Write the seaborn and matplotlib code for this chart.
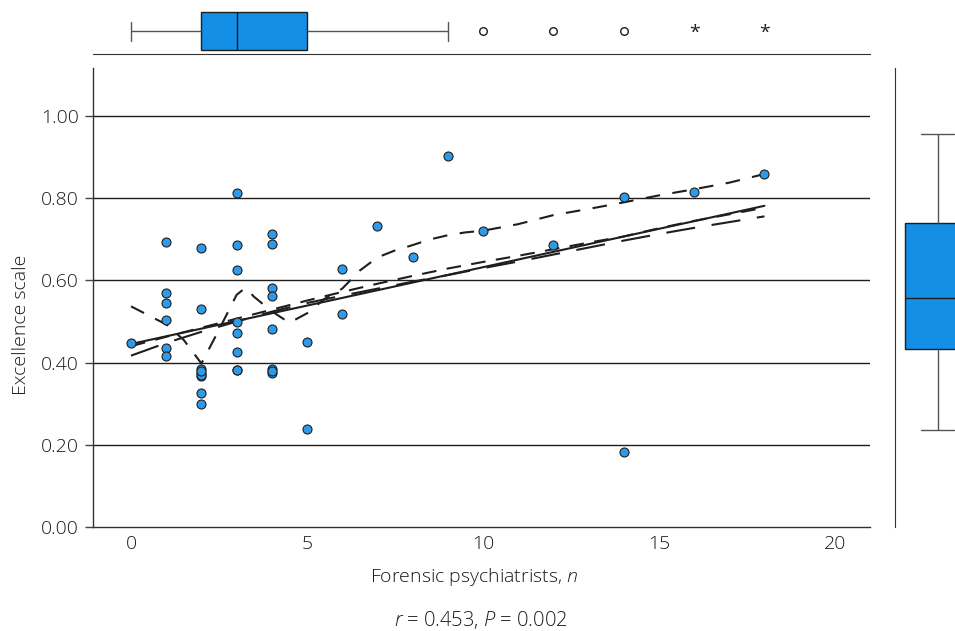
import numpy as np
import pandas as pd
import seaborn as sns
import matplotlib.pyplot as plt

# Points (a few stacked points sit hidden behind others)
forensic = [0,
            1, 1, 1, 1, 1, 1,
            2, 2, 2, 2, 2, 2, 2, 2, 2,
            3, 3, 3, 3, 3, 3, 3, 3,
            4, 4, 4, 4, 4, 4, 4, 4,
            5, 5, 6, 6, 7, 8, 9, 10, 12, 14, 14, 16, 18]
excellence = [0.447,
              0.694, 0.570, 0.545, 0.505, 0.436, 0.415,
              0.680, 0.530, 0.384, 0.375, 0.367, 0.325, 0.300, 0.370, 0.380,
              0.813, 0.687, 0.625, 0.498, 0.473, 0.427, 0.381, 0.381,
              0.713, 0.688, 0.582, 0.562, 0.482, 0.384, 0.375, 0.380,
              0.451, 0.238, 0.627, 0.518, 0.732, 0.656, 0.904, 0.721, 0.686,
              0.803, 0.183, 0.815, 0.859]

# other fit curves
smooth_x = [0, 0.5, 1, 1.5, 2, 2.5, 3, 3.25, 3.5, 4, 4.5, 5, 5.5, 6, 6.5, 7,
            7.5, 8, 8.5, 9, 9.5, 10, 11, 12, 13, 14, 15, 16, 17, 18]
smooth_y = [0.537, 0.515, 0.493, 0.455, 0.398, 0.48, 0.565, 0.582, 0.56, 0.525,
            0.497, 0.52, 0.555, 0.58, 0.624, 0.656, 0.673, 0.686, 0.70, 0.71,
            0.717, 0.721, 0.737, 0.759, 0.774, 0.79, 0.807, 0.822, 0.838, 0.859]
curve_x = [0, 1, 2, 3, 4, 5, 6, 7, 8, 9, 10, 11, 12, 13, 14, 15, 16, 17, 18]
long_dash_y = [0.417, 0.448, 0.475, 0.500, 0.524, 0.545, 0.563, 0.580, 0.597,
               0.613, 0.630, 0.646, 0.663, 0.680, 0.697, 0.713, 0.728, 0.742, 0.756]
mid_dash_y = [0.440, 0.463, 0.485, 0.507, 0.529, 0.551, 0.572, 0.592, 0.611,
              0.629, 0.645, 0.660, 0.676, 0.692, 0.707, 0.727, 0.745, 0.761, 0.777]

y_ticks = [0.0, 0.2, 0.4, 0.6, 0.8, 1.0]
x_ticks = [0, 5, 10, 15, 20]

df = pd.DataFrame({'forensic': forensic, 'excellence': excellence})

box_color = '#148fe6'
dot_color = '#2e9bea'
ink = '#1e1e1e'
text_color = '#1a1a1a'

sns.set_style('white')
plt.rcParams['font.family'] = ['Open Sans', 'DejaVu Sans']
plt.rcParams['font.weight'] = 'light'
plt.rcParams['axes.labelweight'] = 'light'
plt.rcParams['mathtext.fontset'] = 'custom'
plt.rcParams['mathtext.rm'] = 'Open Sans:light'
plt.rcParams['mathtext.it'] = 'Open Sans:italic:light'

fig = plt.figure(figsize=(9.55, 6.31), dpi=100)
ax = fig.add_axes([0.0974, 0.1648, 0.8136, 0.7274])
ax_top = fig.add_axes([0.0974, 0.9144, 0.8136, 0.0856])
ax_right = fig.add_axes([0.9372, 0.1648, 0.0942, 0.7274])

# main scatter + fit lines
for y in y_ticks[1:]:
    ax.axhline(y, color=ink, lw=1, zorder=1)
sns.regplot(data=df, x='forensic', y='excellence', order=1, ci=None, scatter=False,
            ax=ax, line_kws=dict(color=ink, lw=1.5, zorder=2))
sns.lineplot(x=curve_x, y=long_dash_y, ax=ax, color=ink, lw=1.5, zorder=2)
ax.lines[-1].set_dashes((14, 8))
sns.lineplot(x=curve_x, y=mid_dash_y, ax=ax, color=ink, lw=1.5, zorder=2)
ax.lines[-1].set_dashes((7, 5))
sns.lineplot(x=smooth_x, y=smooth_y, ax=ax, sort=False, color=ink, lw=1.5, zorder=2)
ax.lines[-1].set_dashes((7, 6))
sns.scatterplot(data=df, x='forensic', y='excellence', ax=ax, color=dot_color,
                edgecolor=ink, s=42, linewidth=0.8, zorder=3)

ax.set_xlim(-1.08, 21.0)
ax.set_ylim(0, 1.117)
ax.set_xticks(x_ticks)
ax.set_yticks(y_ticks)
ax.set_yticklabels([f'{v:.2f}' for v in y_ticks])
ax.tick_params(axis='x', length=0, pad=6, labelsize=14, labelcolor=text_color)
ax.tick_params(axis='y', length=6, width=1, direction='out', color='#444',
               pad=4, labelsize=14, labelcolor=text_color, left=True)
for s in ['top', 'right']:
    ax.spines[s].set_visible(False)
for s in ['left', 'bottom']:
    ax.spines[s].set_color('#333')
    ax.spines[s].set_linewidth(1)
ax.set_xlabel('Forensic psychiatrists, $n$', fontsize=14, color=text_color)
ax.set_ylabel('Excellence scale', fontsize=14, color=text_color)
ax.xaxis.set_label_coords(0.49, -0.085)
ax.yaxis.set_label_coords(-0.081, 0.44)

# top marginal box plot of forensic psychiatrists
q1, q3 = np.percentile(forensic, [25, 75])
iqr = q3 - q1
fx = np.array(forensic)
mild = fx[((fx > q3 + 1.5 * iqr) & (fx <= q3 + 3 * iqr)) | ((fx < q1 - 1.5 * iqr) & (fx >= q1 - 3 * iqr))]
extreme = fx[(fx > q3 + 3 * iqr) | (fx < q1 - 3 * iqr)]
sns.boxplot(x=forensic, ax=ax_top, orient='h', color=box_color, width=0.8,
            showfliers=False, linecolor=ink, linewidth=1,
            whiskerprops=dict(color='#555'), capprops=dict(color='#555'),
            saturation=1)
ax_top.scatter(np.unique(mild), np.zeros(len(np.unique(mild))), marker='o', s=30,
               facecolor='white', edgecolor=ink, linewidth=1, zorder=3)
for v in np.unique(extreme):
    ax_top.text(v, 0.04, '*', ha='center', va='center', fontsize=14,
                color=ink, fontweight='normal')
ax_top.set_xlim(ax.get_xlim())
ax_top.set_ylim(0.484, -0.653)
ax_top.set_xticks([])
ax_top.set_yticks([])
ax_top.set_xlabel('')
for s in ['top', 'right', 'left']:
    ax_top.spines[s].set_visible(False)
ax_top.spines['bottom'].set_color('#333')

# right marginal box plot of excellence scale
sns.boxplot(y=excellence, ax=ax_right, color=box_color, width=0.8,
            showfliers=False, linecolor=ink, linewidth=1,
            whiskerprops=dict(color='#555'), capprops=dict(color='#555'),
            saturation=1)
ax_right.set_xlim(-0.523, 0.579)
ax_right.set_ylim(-0.053, 1.064)
ax_right.set_xticks([])
ax_right.set_yticks([])
ax_right.set_ylabel('')
for s in ['top', 'right', 'bottom']:
    ax_right.spines[s].set_visible(False)
ax_right.spines['left'].set_color('#333')

fig.text(0.504, 0.0174, '$r$ = 0.453, $P$ = 0.002', ha='center', va='center',
         fontsize=14.5, color=text_color)

fig.savefig('out.png', dpi=100)
